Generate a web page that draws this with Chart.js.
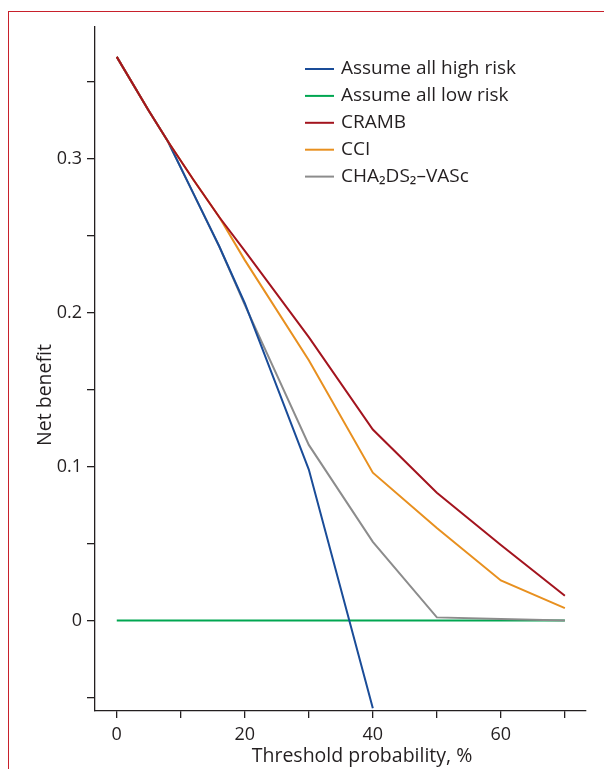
<!DOCTYPE html>
<html>
<head>
<meta charset="utf-8">
<script src="https://cdn.jsdelivr.net/npm/chart.js@4/dist/chart.umd.min.js"></script>
<style>
  html, body { margin: 0; padding: 0; background: #fff; }
  canvas { display: block; }
</style>
</head>
<body>
<canvas id="chart" width="604" height="769"></canvas>
<script>
// Decision curve: net benefit vs threshold probability
const thresholds = [0, 5, 8, 12, 16, 20, 30, 40, 50, 60, 70];

const allHighRisk = [0.366, 0.331, 0.311, 0.277, 0.243, 0.206, 0.098, -0.057, null, null, null];
const allLowRisk  = [0, 0, 0, 0, 0, 0, 0, 0, 0, 0, 0];
const cramb       = [0.366, 0.331, 0.311, 0.286, 0.262, 0.240, 0.184, 0.124, 0.083, 0.049, 0.016];
const cci         = [0.366, 0.331, 0.311, 0.286, 0.262, 0.234, 0.169, 0.096, 0.060, 0.026, 0.008];
const chads       = [0.366, 0.331, 0.311, 0.277, 0.243, 0.205, 0.114, 0.051, 0.002, 0.001, 0.000];

const seriesLabels = ['Assume all high risk', 'Assume all low risk', 'CRAMB', 'CCI', 'CHA\u2082DS\u2082\u2013VASc'];

const xTicks = [0, 10, 20, 30, 40, 50, 60, 70];
const xTickLabels = ['0', '', '20', '', '40', '', '60', ''];
const yTicks = [-0.05, 0, 0.05, 0.1, 0.15, 0.2, 0.25, 0.3, 0.35];
const yTickLabels = ['', '0', '', '0.1', '', '0.2', '', '0.3', ''];

const FONT = "'Open Sans', sans-serif";
const INK = '#231f20';

// frame, legend and axis titles
const decorPlugin = {
  id: 'decor',
  beforeDraw(chart) {
    const ctx = chart.ctx;
    ctx.save();
    ctx.fillStyle = '#c8202b';
    ctx.fillRect(8, 11, 1, chart.height - 11);
    ctx.fillRect(8, 11, chart.width - 8, 1);
    ctx.restore();
  },
  afterDraw(chart) {
    const ctx = chart.ctx;
    const ds = chart.data.datasets;
    ctx.save();
    ctx.font = '19px ' + FONT;
    ctx.textBaseline = 'middle';
    ctx.fillStyle = INK;
    ds.forEach((d, i) => {
      const y = 69 + i * 26.9;
      ctx.strokeStyle = d.borderColor;
      ctx.lineWidth = 2;
      ctx.beginPath();
      ctx.moveTo(305, y);
      ctx.lineTo(334, y);
      ctx.stroke();
      ctx.fillText(d.label, 341, y);
    });

    ctx.font = '19.5px ' + FONT;
    ctx.textAlign = 'center';
    ctx.fillText('Threshold probability, %', 362, 756);

    ctx.translate(45, 395);
    ctx.rotate(-Math.PI / 2);
    ctx.fillText('Net benefit', 0, 0);
    ctx.restore();
  }
};

new Chart(document.getElementById('chart'), {
  type: 'line',
  data: {
    labels: thresholds,
    datasets: [
      { label: seriesLabels[0], data: allHighRisk, borderColor: '#1a4c98', order: 2 },
      { label: seriesLabels[1], data: allLowRisk, borderColor: '#00a651', order: 4 },
      { label: seriesLabels[2], data: cramb, borderColor: '#a3141e', order: 0 },
      { label: seriesLabels[3], data: cci, borderColor: '#e8901f', order: 1 },
      { label: seriesLabels[4], data: chads, borderColor: '#8c8c8c', order: 3 },
    ],
  },
  options: {
    responsive: false,
    animation: false,
    layout: { padding: { left: 0, top: 27, right: 18, bottom: 0 } },
    elements: {
      line: { borderWidth: 2, tension: 0 },
      point: { radius: 0, hoverRadius: 0 },
    },
    plugins: {
      legend: { display: false },
      tooltip: { enabled: false },
    },
    scales: {
      x: {
        type: 'linear',
        min: -3.4,
        max: 73.3,
        afterFit(axis) { axis.height = 58; },
        afterBuildTicks(axis) { axis.ticks = xTicks.map(v => ({ value: v })); },
        border: { display: true, color: INK, width: 1.3 },
        grid: { drawOnChartArea: false, drawTicks: true, tickLength: 7, color: INK, lineWidth: 1.3 },
        ticks: {
          padding: 6,
          color: INK,
          font: { size: 18, family: FONT },
          maxRotation: 0,
          autoSkip: false,
          callback: (v) => xTickLabels[xTicks.indexOf(v)] ?? '',
        },
      },
      y: {
        min: -0.0588,
        max: 0.3854,
        afterFit(axis) { axis.width = 95; },
        afterBuildTicks(axis) { axis.ticks = yTicks.map(v => ({ value: v })); },
        border: { display: true, color: INK, width: 1.3 },
        grid: { drawOnChartArea: false, drawTicks: true, tickLength: 8, color: INK, lineWidth: 1.3 },
        ticks: {
          padding: 5,
          color: INK,
          font: { size: 18, family: FONT },
          autoSkip: false,
          callback: (v) => {
            const i = yTicks.findIndex(t => Math.abs(t - v) < 1e-9);
            return i >= 0 ? yTickLabels[i] : '';
          },
        },
      },
    },
  },
  plugins: [decorPlugin],
});
</script>
</body>
</html>
